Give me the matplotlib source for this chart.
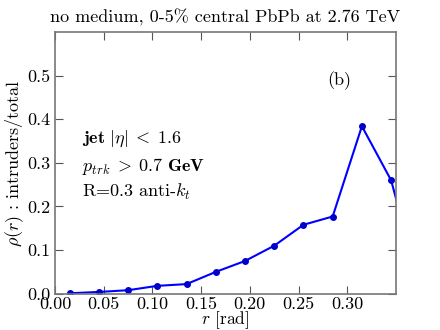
import matplotlib
matplotlib.use("Agg")
import matplotlib.pyplot as plt
import numpy as np

plt.rcParams['font.family'] = 'cmr10'
plt.rcParams['mathtext.fontset'] = 'cm'
plt.rcParams['axes.formatter.use_mathtext'] = True

r = [0.015, 0.045, 0.075, 0.105, 0.135, 0.165, 0.195, 0.225, 0.255, 0.285, 0.315, 0.345, 0.375]
rho = [0.001, 0.004, 0.008, 0.018, 0.022, 0.050, 0.075, 0.110, 0.158, 0.177, 0.384, 0.260, 0.010]
xticks = [0.00, 0.05, 0.10, 0.15, 0.20, 0.25, 0.30]
yticks = [0.0, 0.1, 0.2, 0.3, 0.4, 0.5]

fig = plt.figure(figsize=(4.4, 3.3), dpi=100)
ax = fig.add_axes([0.125, 0.11, 0.775, 0.793])
ax.plot(r, rho, color='blue', lw=1.5, marker='o', ms=4, mfc='#0000cc', mec='#0000cc')
ax.set_xlim(0, 0.35)
ax.set_ylim(0, 0.6)
ax.set_xticks(xticks)
ax.set_xticklabels([f"{v:.2f}" for v in xticks])
ax.set_yticks(yticks)
ax.set_yticklabels([f"{v:.1f}" for v in yticks])
ax.tick_params(direction='in', top=True, right=True, labelsize=13, length=6, color='#555555')
ax.tick_params(axis='x', pad=2)
for s in ax.spines.values():
    s.set_color('#777777')
    s.set_linewidth(1.2)
ax.set_xlabel(r'$r$ [rad]', fontsize=12.5, labelpad=-1.5)
ax.set_ylabel(r'$\rho(r)$ : intruders/total', fontsize=13, labelpad=1)
ax.set_title('no medium, 0-5% central PbPb at 2.76 TeV', fontsize=13, pad=7)
ax.text(0.079, 0.593, r'$\mathbf{jet}\ |\eta|\;<\;1.6$', transform=ax.transAxes, fontsize=13, va='center')
ax.text(0.079, 0.485, r'$p_{trk}\;>\;0.7\ \mathbf{GeV}$', transform=ax.transAxes, fontsize=13, va='center')
ax.text(0.079, 0.39, r'R=0.3 anti-$k_t$', transform=ax.transAxes, fontsize=13, va='center')
ax.text(0.835, 0.815, '(b)', transform=ax.transAxes, fontsize=13, ha='center', va='center')
fig.savefig('out.png', dpi=100)
